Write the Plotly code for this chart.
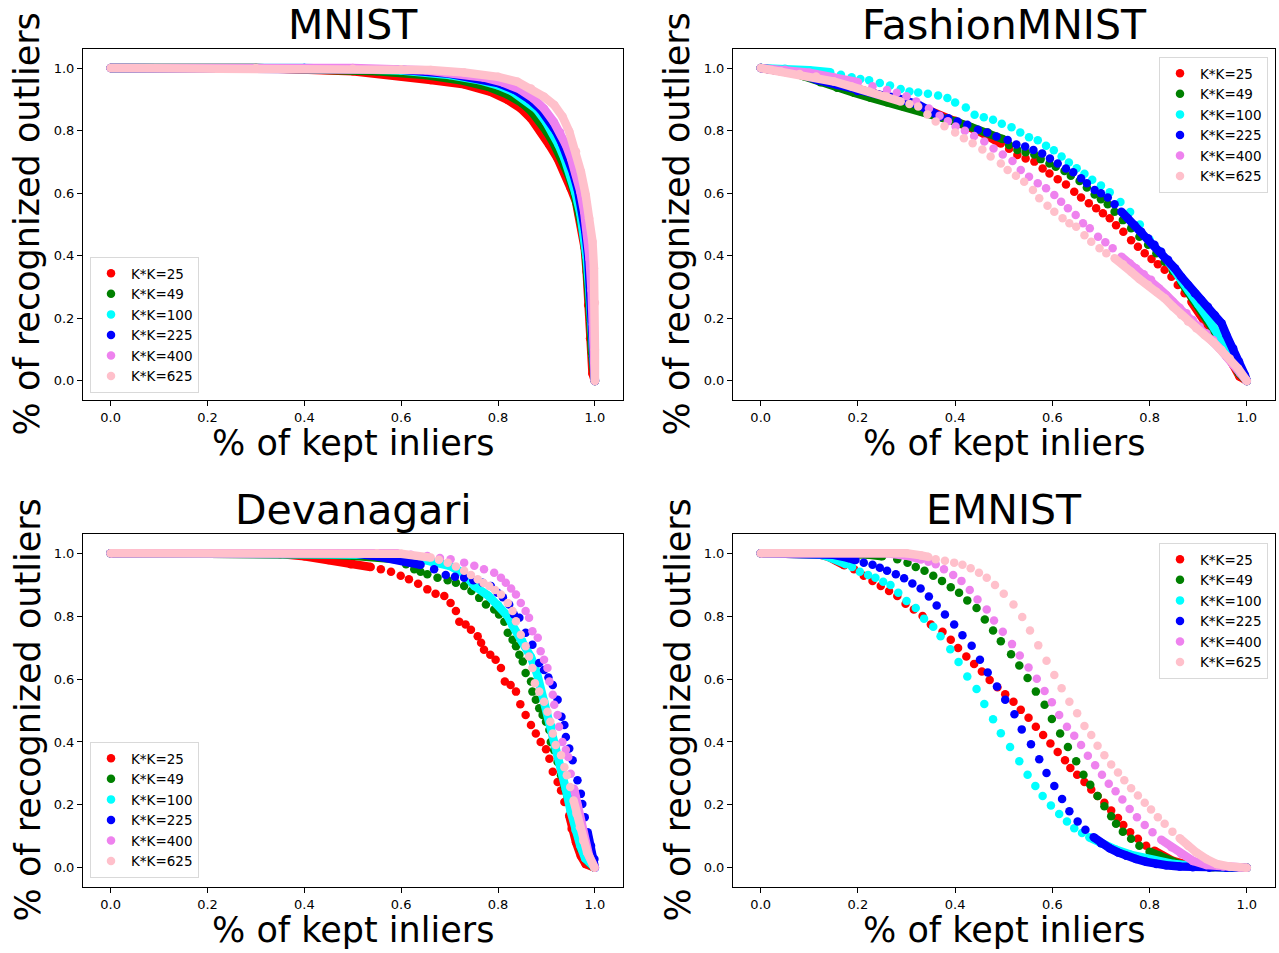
import plotly.graph_objects as go

# ---------------- labels ----------------
PANEL_TITLES = ["MNIST", "FashionMNIST", "Devanagari", "EMNIST"]
SERIES_NAMES = ["K*K=25", "K*K=49", "K*K=100", "K*K=225", "K*K=400", "K*K=625"]
TICK_VALUES = [0.0, 0.2, 0.4, 0.6, 0.8, 1.0]
TICK_LABELS = ["0.0", "0.2", "0.4", "0.6", "0.8", "1.0"]
X_LABEL = "% of kept inliers"
Y_LABEL = "% of recognized outliers"

# ---------------- MNIST ----------------
mnist_x_25 = [0.0, 0.3, 0.5, 0.60, 0.661, 0.73, 0.785, 0.82, 0.847, 0.868, 0.888, 0.906, 0.923, 0.937, 0.950, 0.961, 0.967, 0.975, 0.979, 0.983, 0.986, 0.990, 0.995, 1.0]
mnist_y_25 = [1.0, 1.0, 0.990, 0.975, 0.962, 0.948, 0.924, 0.898, 0.871, 0.839, 0.797, 0.754, 0.711, 0.669, 0.616, 0.573, 0.530, 0.477, 0.424, 0.349, 0.243, 0.136, 0.024, 0.0]
mnist_x_49 = [0.0, 0.3, 0.55, 0.65, 0.72, 0.78, 0.82, 0.85, 0.87, 0.887, 0.90, 0.915, 0.93, 0.945, 0.957, 0.967, 0.975, 0.981, 0.986, 0.990, 0.994, 1.0]
mnist_y_49 = [1.0, 1.0, 0.99, 0.978, 0.962, 0.940, 0.915, 0.888, 0.860, 0.828, 0.798, 0.760, 0.715, 0.660, 0.605, 0.545, 0.480, 0.410, 0.320, 0.210, 0.090, 0.0]
mnist_x_100 = [0.0, 0.4, 0.6, 0.70, 0.76, 0.80, 0.83, 0.86, 0.88, 0.899, 0.912, 0.925, 0.938, 0.950, 0.960, 0.970, 0.977, 0.983, 0.988, 0.992, 0.996, 1.0]
mnist_y_100 = [1.0, 1.0, 0.992, 0.978, 0.962, 0.945, 0.925, 0.895, 0.868, 0.828, 0.795, 0.755, 0.708, 0.655, 0.600, 0.535, 0.470, 0.395, 0.300, 0.190, 0.080, 0.0]
mnist_x_225 = [0.0, 0.4, 0.6, 0.70, 0.76, 0.80, 0.835, 0.865, 0.888, 0.908, 0.92, 0.932, 0.944, 0.955, 0.965, 0.973, 0.980, 0.986, 0.990, 0.994, 0.997, 1.0]
mnist_y_225 = [1.0, 1.0, 0.995, 0.982, 0.968, 0.952, 0.930, 0.900, 0.868, 0.828, 0.797, 0.760, 0.715, 0.665, 0.610, 0.550, 0.480, 0.400, 0.300, 0.190, 0.080, 0.0]
mnist_x_400 = [0.0, 0.5, 0.65, 0.72, 0.77, 0.81, 0.845, 0.873, 0.895, 0.915, 0.928, 0.940, 0.951, 0.961, 0.970, 0.978, 0.984, 0.989, 0.993, 0.996, 0.999, 1.0]
mnist_y_400 = [1.0, 1.0, 0.993, 0.983, 0.970, 0.954, 0.932, 0.903, 0.870, 0.828, 0.795, 0.755, 0.710, 0.660, 0.605, 0.540, 0.470, 0.390, 0.290, 0.180, 0.070, 0.0]
mnist_x_625 = [0.0, 0.3, 0.5, 0.6, 0.661, 0.73, 0.80, 0.84, 0.868, 0.895, 0.916, 0.933, 0.947, 0.961, 0.971, 0.981, 0.988, 0.995, 0.998, 1.0, 1.0, 1.0]
mnist_y_625 = [1.0, 1.0, 0.998, 0.996, 0.994, 0.986, 0.972, 0.956, 0.935, 0.908, 0.882, 0.845, 0.797, 0.733, 0.669, 0.594, 0.520, 0.445, 0.360, 0.25, 0.10, 0.0]

# ---------------- FashionMNIST ----------------
fashion_x_25 = [0.0, 0.05, 0.10, 0.15, 0.20, 0.25, 0.30, 0.35, 0.40, 0.45, 0.494, 0.511, 0.528, 0.545, 0.563, 0.580, 0.594, 0.611, 0.628, 0.645, 0.659, 0.675, 0.690, 0.704, 0.718, 0.731, 0.746, 0.762, 0.776, 0.790, 0.804, 0.817, 0.831, 0.845, 0.858, 0.872, 0.886, 0.903, 0.920, 0.937, 0.955, 0.972, 0.985, 1.0]
fashion_y_25 = [1.0, 0.99, 0.975, 0.955, 0.935, 0.913, 0.89, 0.862, 0.832, 0.797, 0.759, 0.742, 0.722, 0.711, 0.701, 0.679, 0.663, 0.645, 0.628, 0.605, 0.586, 0.568, 0.552, 0.536, 0.520, 0.498, 0.477, 0.450, 0.429, 0.408, 0.390, 0.373, 0.355, 0.333, 0.307, 0.280, 0.253, 0.216, 0.179, 0.136, 0.094, 0.051, 0.014, 0.0]
fashion_x_49 = [0.0, 0.054, 0.089, 0.123, 0.157, 0.192, 0.226, 0.260, 0.295, 0.329, 0.364, 0.398, 0.432, 0.467, 0.498, 0.511, 0.528, 0.545, 0.563, 0.576, 0.594, 0.607, 0.625, 0.638, 0.656, 0.671, 0.687, 0.700, 0.714, 0.728, 0.745, 0.762, 0.779, 0.797, 0.814, 0.831, 0.848, 0.865, 0.882, 0.900, 0.917, 0.934, 0.951, 0.968, 0.984, 1.0]
fashion_y_49 = [1.0, 0.992, 0.974, 0.955, 0.937, 0.921, 0.905, 0.891, 0.876, 0.862, 0.847, 0.830, 0.812, 0.794, 0.773, 0.754, 0.738, 0.731, 0.724, 0.709, 0.695, 0.685, 0.671, 0.656, 0.639, 0.618, 0.596, 0.581, 0.565, 0.541, 0.514, 0.488, 0.461, 0.435, 0.408, 0.381, 0.351, 0.317, 0.280, 0.243, 0.200, 0.158, 0.115, 0.072, 0.025, 0.0]
fashion_x_100 = [0.0, 0.05, 0.10, 0.143, 0.165, 0.187, 0.205, 0.223, 0.245, 0.266, 0.288, 0.306, 0.324, 0.344, 0.365, 0.384, 0.400, 0.422, 0.440, 0.459, 0.478, 0.496, 0.516, 0.534, 0.552, 0.570, 0.587, 0.603, 0.619, 0.634, 0.650, 0.666, 0.682, 0.700, 0.718, 0.74, 0.76, 0.78, 0.80, 0.82, 0.84, 0.86, 0.88, 0.90, 0.92, 0.94, 0.96, 0.98, 1.0]
fashion_y_100 = [1.0, 0.998, 0.993, 0.987, 0.979, 0.971, 0.965, 0.961, 0.952, 0.944, 0.933, 0.925, 0.922, 0.918, 0.912, 0.904, 0.890, 0.874, 0.851, 0.843, 0.835, 0.822, 0.811, 0.794, 0.779, 0.769, 0.752, 0.737, 0.717, 0.698, 0.680, 0.662, 0.643, 0.625, 0.603, 0.572, 0.540, 0.500, 0.452, 0.415, 0.378, 0.336, 0.290, 0.245, 0.200, 0.150, 0.100, 0.050, 0.0]
fashion_x_225 = [0.0, 0.05, 0.08, 0.116, 0.157, 0.199, 0.240, 0.281, 0.324, 0.370, 0.386, 0.405, 0.425, 0.447, 0.466, 0.485, 0.508, 0.526, 0.544, 0.561, 0.579, 0.595, 0.611, 0.628, 0.643, 0.659, 0.671, 0.687, 0.700, 0.714, 0.728, 0.742, 0.755, 0.769, 0.783, 0.797, 0.810, 0.824, 0.838, 0.852, 0.865, 0.879, 0.893, 0.906, 0.920, 0.934, 0.948, 0.958, 0.972, 0.984, 0.996, 1.0]
fashion_y_225 = [1.0, 0.993, 0.982, 0.962, 0.946, 0.927, 0.916, 0.904, 0.883, 0.845, 0.840, 0.829, 0.819, 0.803, 0.794, 0.781, 0.770, 0.756, 0.749, 0.738, 0.727, 0.711, 0.695, 0.679, 0.667, 0.648, 0.632, 0.610, 0.600, 0.586, 0.565, 0.541, 0.520, 0.498, 0.477, 0.456, 0.435, 0.413, 0.387, 0.360, 0.333, 0.307, 0.280, 0.259, 0.237, 0.211, 0.184, 0.147, 0.104, 0.062, 0.019, 0.0]
fashion_x_400 = [0.0, 0.05, 0.10, 0.15, 0.20, 0.23, 0.26, 0.28, 0.30, 0.32, 0.346, 0.368, 0.385, 0.401, 0.42, 0.439, 0.46, 0.479, 0.498, 0.518, 0.535, 0.552, 0.570, 0.587, 0.604, 0.618, 0.632, 0.648, 0.663, 0.677, 0.694, 0.709, 0.724, 0.742, 0.759, 0.772, 0.788, 0.803, 0.819, 0.834, 0.848, 0.862, 0.876, 0.889, 0.903, 0.917, 0.931, 0.944, 0.958, 0.972, 0.986, 1.0]
fashion_y_400 = [1.0, 0.995, 0.985, 0.970, 0.955, 0.942, 0.930, 0.921, 0.910, 0.893, 0.871, 0.848, 0.830, 0.813, 0.800, 0.783, 0.765, 0.743, 0.724, 0.703, 0.674, 0.653, 0.632, 0.616, 0.594, 0.573, 0.552, 0.530, 0.504, 0.488, 0.461, 0.443, 0.424, 0.397, 0.376, 0.360, 0.341, 0.323, 0.296, 0.275, 0.253, 0.234, 0.216, 0.195, 0.174, 0.152, 0.131, 0.104, 0.078, 0.051, 0.025, 0.0]
fashion_x_625 = [0.0, 0.042, 0.08, 0.114, 0.151, 0.187, 0.223, 0.259, 0.288, 0.306, 0.324, 0.343, 0.360, 0.378, 0.400, 0.418, 0.436, 0.456, 0.473, 0.494, 0.508, 0.525, 0.542, 0.560, 0.573, 0.590, 0.604, 0.621, 0.635, 0.649, 0.666, 0.680, 0.697, 0.711, 0.728, 0.745, 0.762, 0.779, 0.797, 0.814, 0.831, 0.848, 0.865, 0.879, 0.896, 0.913, 0.931, 0.948, 0.965, 0.982, 1.0]
fashion_y_625 = [1.0, 0.989, 0.981, 0.973, 0.957, 0.941, 0.925, 0.909, 0.893, 0.885, 0.877, 0.852, 0.829, 0.814, 0.794, 0.776, 0.760, 0.740, 0.717, 0.695, 0.674, 0.656, 0.637, 0.610, 0.584, 0.560, 0.541, 0.520, 0.504, 0.493, 0.466, 0.445, 0.424, 0.408, 0.392, 0.373, 0.349, 0.326, 0.307, 0.285, 0.264, 0.237, 0.211, 0.190, 0.168, 0.147, 0.124, 0.099, 0.072, 0.040, 0.0]

# ---------------- Devanagari ----------------
deva_x_25 = [0.0, 0.30, 0.35, 0.40, 0.45, 0.496, 0.537, 0.558, 0.579, 0.599, 0.616, 0.635, 0.654, 0.671, 0.689, 0.702, 0.713, 0.720, 0.733, 0.744, 0.758, 0.765, 0.771, 0.784, 0.795, 0.806, 0.814, 0.826, 0.837, 0.846, 0.857, 0.868, 0.878, 0.888, 0.899, 0.906, 0.913, 0.923, 0.930, 0.937, 0.947, 0.952, 0.961, 0.971, 0.981, 0.999]
deva_y_25 = [1.0, 1.0, 0.997, 0.990, 0.978, 0.965, 0.956, 0.949, 0.941, 0.928, 0.917, 0.903, 0.885, 0.871, 0.864, 0.842, 0.816, 0.782, 0.773, 0.757, 0.736, 0.715, 0.693, 0.677, 0.661, 0.635, 0.592, 0.581, 0.560, 0.520, 0.486, 0.454, 0.427, 0.400, 0.377, 0.347, 0.305, 0.273, 0.246, 0.209, 0.166, 0.124, 0.081, 0.038, 0.012, 0.001]
deva_x_49 = [0.0, 0.40, 0.45, 0.50, 0.55, 0.592, 0.610, 0.627, 0.640, 0.654, 0.675, 0.696, 0.713, 0.730, 0.745, 0.761, 0.775, 0.792, 0.802, 0.813, 0.820, 0.830, 0.837, 0.844, 0.851, 0.857, 0.868, 0.871, 0.878, 0.885, 0.892, 0.899, 0.906, 0.909, 0.916, 0.923, 0.930, 0.937, 0.943, 0.950, 0.957, 0.964, 0.971, 0.981, 0.999]
deva_y_49 = [1.0, 1.0, 0.996, 0.992, 0.988, 0.981, 0.965, 0.949, 0.941, 0.933, 0.922, 0.914, 0.906, 0.896, 0.880, 0.858, 0.837, 0.821, 0.805, 0.782, 0.747, 0.725, 0.704, 0.677, 0.656, 0.619, 0.592, 0.560, 0.534, 0.507, 0.486, 0.464, 0.438, 0.400, 0.374, 0.336, 0.294, 0.262, 0.230, 0.187, 0.145, 0.102, 0.060, 0.028, 0.0]
deva_x_100 = [0.0, 0.50, 0.58, 0.62, 0.66, 0.70, 0.73, 0.751, 0.78, 0.80, 0.82, 0.83, 0.85, 0.868, 0.88, 0.895, 0.91, 0.92, 0.93, 0.94, 0.95, 0.96, 0.97, 0.98, 1.0]
deva_y_100 = [1.0, 1.0, 0.995, 0.988, 0.975, 0.960, 0.935, 0.896, 0.865, 0.835, 0.800, 0.770, 0.720, 0.670, 0.620, 0.530, 0.450, 0.390, 0.320, 0.250, 0.180, 0.120, 0.070, 0.030, 0.0]
deva_x_225 = [0.0, 0.50, 0.55, 0.60, 0.640, 0.668, 0.692, 0.711, 0.730, 0.749, 0.768, 0.785, 0.799, 0.810, 0.823, 0.833, 0.844, 0.857, 0.871, 0.885, 0.895, 0.904, 0.913, 0.923, 0.931, 0.937, 0.940, 0.947, 0.954, 0.964, 0.971, 0.974, 0.979, 0.985, 0.992, 0.999, 1.0]
deva_y_225 = [1.0, 1.0, 0.990, 0.978, 0.963, 0.949, 0.931, 0.925, 0.922, 0.914, 0.906, 0.896, 0.874, 0.860, 0.837, 0.805, 0.795, 0.747, 0.709, 0.651, 0.629, 0.605, 0.581, 0.534, 0.480, 0.454, 0.416, 0.379, 0.342, 0.278, 0.235, 0.203, 0.161, 0.113, 0.070, 0.028, 0.0]
deva_x_400 = [0.0, 0.55, 0.592, 0.62, 0.654, 0.68, 0.702, 0.730, 0.751, 0.771, 0.792, 0.806, 0.816, 0.827, 0.837, 0.847, 0.857, 0.864, 0.871, 0.882, 0.888, 0.895, 0.902, 0.906, 0.913, 0.916, 0.923, 0.926, 0.933, 0.940, 0.945, 0.950, 0.957, 0.964, 0.971, 0.978, 0.988, 1.0]
deva_y_400 = [1.0, 1.0, 1.0, 0.995, 0.991, 0.985, 0.981, 0.970, 0.960, 0.949, 0.938, 0.922, 0.906, 0.888, 0.869, 0.842, 0.816, 0.795, 0.752, 0.731, 0.688, 0.661, 0.635, 0.592, 0.550, 0.518, 0.486, 0.448, 0.400, 0.375, 0.352, 0.299, 0.251, 0.198, 0.145, 0.092, 0.038, 0.0]
deva_x_625 = [0.0, 0.55, 0.60, 0.661, 0.678, 0.696, 0.713, 0.730, 0.744, 0.758, 0.770, 0.782, 0.794, 0.806, 0.820, 0.830, 0.837, 0.847, 0.857, 0.864, 0.871, 0.876, 0.885, 0.895, 0.902, 0.908, 0.913, 0.919, 0.930, 0.937, 0.942, 0.949, 0.956, 0.962, 0.969, 0.976, 0.984, 0.999]
deva_y_625 = [1.0, 1.0, 0.998, 0.986, 0.979, 0.970, 0.958, 0.944, 0.931, 0.917, 0.905, 0.896, 0.883, 0.869, 0.842, 0.816, 0.784, 0.741, 0.704, 0.672, 0.635, 0.587, 0.560, 0.528, 0.496, 0.464, 0.427, 0.390, 0.358, 0.320, 0.294, 0.257, 0.214, 0.172, 0.129, 0.086, 0.049, 0.0]

# ---------------- EMNIST ----------------
emnist_x_25 = [0.0, 0.05, 0.10, 0.12, 0.14, 0.155, 0.172, 0.192, 0.212, 0.230, 0.247, 0.264, 0.281, 0.298, 0.315, 0.333, 0.350, 0.374, 0.391, 0.406, 0.423, 0.439, 0.455, 0.471, 0.487, 0.503, 0.520, 0.535, 0.551, 0.566, 0.581, 0.596, 0.611, 0.626, 0.637, 0.651, 0.666, 0.680, 0.693, 0.707, 0.721, 0.735, 0.746, 0.760, 0.776, 0.793, 0.810, 0.827, 0.848, 0.876, 0.903, 0.937, 0.972, 1.0]
emnist_y_25 = [1.0, 1.0, 1.0, 0.996, 0.988, 0.977, 0.962, 0.949, 0.928, 0.912, 0.896, 0.880, 0.864, 0.839, 0.821, 0.800, 0.773, 0.750, 0.725, 0.699, 0.672, 0.648, 0.624, 0.597, 0.574, 0.552, 0.528, 0.502, 0.477, 0.448, 0.422, 0.395, 0.368, 0.342, 0.317, 0.296, 0.273, 0.249, 0.228, 0.207, 0.182, 0.158, 0.136, 0.113, 0.092, 0.070, 0.054, 0.038, 0.022, 0.010, 0.005, 0.003, 0.001, 0.0]
emnist_x_49 = [0.0, 0.10, 0.18, 0.22, 0.250, 0.281, 0.302, 0.319, 0.337, 0.355, 0.373, 0.391, 0.408, 0.425, 0.444, 0.461, 0.478, 0.494, 0.515, 0.532, 0.549, 0.566, 0.584, 0.599, 0.616, 0.632, 0.649, 0.664, 0.678, 0.693, 0.707, 0.721, 0.731, 0.745, 0.762, 0.779, 0.800, 0.821, 0.841, 0.865, 0.896, 0.930, 0.972, 1.0]
emnist_y_49 = [1.0, 1.0, 1.0, 0.996, 0.990, 0.981, 0.970, 0.956, 0.944, 0.928, 0.912, 0.892, 0.874, 0.850, 0.826, 0.789, 0.754, 0.720, 0.679, 0.643, 0.603, 0.560, 0.518, 0.473, 0.427, 0.384, 0.339, 0.296, 0.264, 0.228, 0.196, 0.164, 0.140, 0.115, 0.092, 0.070, 0.051, 0.038, 0.022, 0.009, 0.004, 0.002, 0.0, 0.0]
emnist_x_100 = [0.0, 0.10, 0.12, 0.14, 0.16, 0.175, 0.188, 0.204, 0.221, 0.236, 0.252, 0.267, 0.283, 0.300, 0.319, 0.336, 0.355, 0.370, 0.390, 0.407, 0.425, 0.444, 0.460, 0.478, 0.494, 0.513, 0.532, 0.549, 0.565, 0.580, 0.597, 0.614, 0.630, 0.645, 0.661, 0.676, 0.700, 0.730, 0.760, 0.800, 0.850, 0.900, 0.950, 1.0]
emnist_y_100 = [1.0, 1.0, 0.996, 0.988, 0.977, 0.965, 0.956, 0.941, 0.931, 0.922, 0.909, 0.899, 0.874, 0.848, 0.826, 0.792, 0.766, 0.736, 0.695, 0.654, 0.608, 0.568, 0.521, 0.472, 0.428, 0.384, 0.339, 0.296, 0.260, 0.228, 0.198, 0.171, 0.147, 0.126, 0.111, 0.097, 0.078, 0.058, 0.042, 0.026, 0.012, 0.005, 0.002, 0.0]
emnist_x_225 = [0.0, 0.12, 0.15, 0.18, 0.195, 0.212, 0.230, 0.245, 0.260, 0.278, 0.295, 0.312, 0.329, 0.346, 0.362, 0.379, 0.398, 0.415, 0.434, 0.451, 0.467, 0.486, 0.503, 0.522, 0.537, 0.556, 0.573, 0.588, 0.604, 0.620, 0.635, 0.652, 0.668, 0.685, 0.700, 0.718, 0.735, 0.752, 0.772, 0.793, 0.814, 0.834, 0.862, 0.889, 0.923, 0.958, 1.0]
emnist_y_225 = [1.0, 1.0, 0.995, 0.985, 0.978, 0.970, 0.963, 0.954, 0.944, 0.933, 0.920, 0.904, 0.888, 0.862, 0.834, 0.805, 0.773, 0.739, 0.706, 0.661, 0.621, 0.576, 0.534, 0.488, 0.440, 0.393, 0.345, 0.301, 0.260, 0.219, 0.180, 0.147, 0.121, 0.097, 0.078, 0.062, 0.049, 0.038, 0.028, 0.019, 0.012, 0.008, 0.004, 0.002, 0.0, 0.0, 0.0]
emnist_x_400 = [0.0, 0.26, 0.30, 0.330, 0.345, 0.360, 0.377, 0.396, 0.413, 0.430, 0.446, 0.465, 0.480, 0.498, 0.517, 0.533, 0.551, 0.568, 0.584, 0.599, 0.614, 0.630, 0.645, 0.659, 0.673, 0.688, 0.702, 0.716, 0.730, 0.744, 0.759, 0.774, 0.790, 0.806, 0.824, 0.845, 0.865, 0.889, 0.917, 0.951, 0.985, 1.0]
emnist_y_400 = [1.0, 1.0, 0.992, 0.980, 0.973, 0.965, 0.949, 0.931, 0.912, 0.883, 0.853, 0.821, 0.786, 0.750, 0.711, 0.675, 0.637, 0.601, 0.562, 0.526, 0.486, 0.448, 0.420, 0.390, 0.356, 0.326, 0.296, 0.267, 0.243, 0.217, 0.187, 0.161, 0.136, 0.113, 0.089, 0.065, 0.044, 0.022, 0.009, 0.004, 0.001, 0.0]
emnist_x_625 = [0.0, 0.30, 0.33, 0.345, 0.360, 0.379, 0.398, 0.415, 0.432, 0.449, 0.465, 0.482, 0.500, 0.520, 0.538, 0.554, 0.571, 0.588, 0.604, 0.619, 0.635, 0.651, 0.666, 0.680, 0.693, 0.707, 0.721, 0.735, 0.748, 0.762, 0.776, 0.790, 0.803, 0.817, 0.831, 0.847, 0.862, 0.879, 0.896, 0.917, 0.938, 0.965, 1.0]
emnist_y_625 = [1.0, 1.0, 0.993, 0.988, 0.981, 0.976, 0.970, 0.963, 0.952, 0.938, 0.922, 0.899, 0.871, 0.837, 0.797, 0.754, 0.707, 0.658, 0.613, 0.571, 0.528, 0.491, 0.451, 0.422, 0.388, 0.358, 0.328, 0.303, 0.278, 0.253, 0.230, 0.207, 0.185, 0.161, 0.140, 0.115, 0.094, 0.070, 0.049, 0.028, 0.012, 0.004, 0.0]

# ---------------- styling (not data) ----------------
COLORS = ["red", "green", "cyan", "blue", "violet", "pink"]
FONT = "DejaVu Sans"
W, H = 1279, 953
MARKER = 8.5
# where the dots are so dense they merge into a solid band: (head ends at x, tail starts at x)
DENSE = {
    "MNIST": [(1.01, 9)] * 6,
    "FashionMNIST": [(0.494, 0.886), (0.498, 0.865), (0.143, 0.84), (0.370, 0.742), (0.20, 0.742), (0.288, 0.728)],
    "Devanagari": [(0.537, 0.947), (0.592, 0.937), (1.01, 9), (0.64, 0.985), (0.592, 0.957), (0.661, 0.956)],
    "EMNIST": [(0.172, 0.80), (0.25, 0.79), (0.175, 0.676), (0.195, 0.685), (0.33, 0.824), (0.345, 0.862)],
}
# axes boxes in screen pixels: left, right, top, bottom
BOXES = [(83, 623, 49, 400), (733, 1275, 49, 400), (83, 623, 534, 887), (733, 1275, 534, 887)]
XR = [-0.057, 1.058]
YR = [-0.061, 1.061]


def px(x):
    return x / W


def py(y):
    return 1 - y / H


LEGENDS = [
    dict(x=px(90), y=py(393), xanchor="left", yanchor="bottom"),
    dict(x=px(1268), y=py(57), xanchor="right", yanchor="top"),
    dict(x=px(90), y=py(878), xanchor="left", yanchor="bottom"),
    dict(x=px(1268), y=py(543), xanchor="right", yanchor="top"),
]

PANEL_DATA = {
    "MNIST": [(mnist_x_25, mnist_y_25), (mnist_x_49, mnist_y_49), (mnist_x_100, mnist_y_100),
              (mnist_x_225, mnist_y_225), (mnist_x_400, mnist_y_400), (mnist_x_625, mnist_y_625)],
    "FashionMNIST": [(fashion_x_25, fashion_y_25), (fashion_x_49, fashion_y_49), (fashion_x_100, fashion_y_100),
                     (fashion_x_225, fashion_y_225), (fashion_x_400, fashion_y_400), (fashion_x_625, fashion_y_625)],
    "Devanagari": [(deva_x_25, deva_y_25), (deva_x_49, deva_y_49), (deva_x_100, deva_y_100),
                   (deva_x_225, deva_y_225), (deva_x_400, deva_y_400), (deva_x_625, deva_y_625)],
    "EMNIST": [(emnist_x_25, emnist_y_25), (emnist_x_49, emnist_y_49), (emnist_x_100, emnist_y_100),
               (emnist_x_225, emnist_y_225), (emnist_x_400, emnist_y_400), (emnist_x_625, emnist_y_625)],
}

fig = go.Figure()
annotations = []
layout = dict(
    width=W, height=H, margin=dict(l=0, r=0, t=0, b=0),
    paper_bgcolor="white", plot_bgcolor="white",
    font=dict(family=FONT, color="black"), showlegend=True,
)

for p, title in enumerate(PANEL_TITLES):
    sfx = "" if p == 0 else str(p + 1)
    xa, ya = "x" + sfx, "y" + sfx
    leg = "legend" + sfx
    for s, ((xs, ys), name, color) in enumerate(zip(PANEL_DATA[title], SERIES_NAMES, COLORS)):
        assert len(xs) == len(ys), (title, name)
        head_end, tail_start = DENSE[title][s]
        hx = [x for x in xs if x <= head_end]
        hy = ys[:len(hx)]
        tx = [x for x in xs if x >= tail_start]
        ty = ys[len(ys) - len(tx):] if tx else []
        bx = hx + [None] + tx
        by = hy + [None] + ty
        fig.add_trace(go.Scatter(x=bx, y=by, mode="lines", xaxis=xa, yaxis=ya,
                                 line=dict(color=color, width=MARKER), showlegend=False,
                                 hoverinfo="skip", connectgaps=False))
        fig.add_trace(go.Scatter(x=xs, y=ys, mode="markers", xaxis=xa, yaxis=ya, name=name,
                                 marker=dict(color=color, size=MARKER, line=dict(width=0)),
                                 legend=leg, showlegend=True))
    l, r, t, b = BOXES[p]
    axis_common = dict(showline=True, mirror=True, linecolor="black", linewidth=1,
                       showgrid=False, zeroline=False, ticks="outside", ticklen=5, tickwidth=1,
                       tickcolor="black", tickvals=TICK_VALUES, ticktext=TICK_LABELS,
                       tickfont=dict(family=FONT, size=13, color="black"))
    layout["xaxis" + sfx] = dict(axis_common, domain=[px(l), px(r)], range=XR, anchor=ya)
    layout["yaxis" + sfx] = dict(axis_common, domain=[py(b), py(t)], range=YR, anchor=xa)
    layout[leg] = dict(LEGENDS[p], bgcolor="rgba(255,255,255,0.8)", bordercolor="#d9d9d9", borderwidth=1,
                       font=dict(family=FONT, size=13.5, color="black"), traceorder="normal",
                       itemsizing="trace")
    cx = (l + r) / 2
    cy = (t + b) / 2
    annotations.append(dict(text=title, x=px(cx), y=py(t - 24), xref="paper", yref="paper",
                            xanchor="center", yanchor="middle", showarrow=False,
                            font=dict(family=FONT, size=41, color="black")))
    annotations.append(dict(text=X_LABEL, x=px(cx), y=py(b + 43), xref="paper", yref="paper",
                            xanchor="center", yanchor="middle", showarrow=False,
                            font=dict(family=FONT, size=35, color="black")))
    annotations.append(dict(text=Y_LABEL, x=px(l - 56), y=py(cy), xref="paper", yref="paper",
                            xanchor="center", yanchor="middle", showarrow=False, textangle=-90,
                            font=dict(family=FONT, size=35, color="black")))

layout["annotations"] = annotations
fig.update_layout(**layout)
# the page's default 8px body margin would push the figure off its 1279x953 frame
fig.write_html("out.html", config={"displayModeBar": False},
               post_script="document.body.style.margin='0px';")
